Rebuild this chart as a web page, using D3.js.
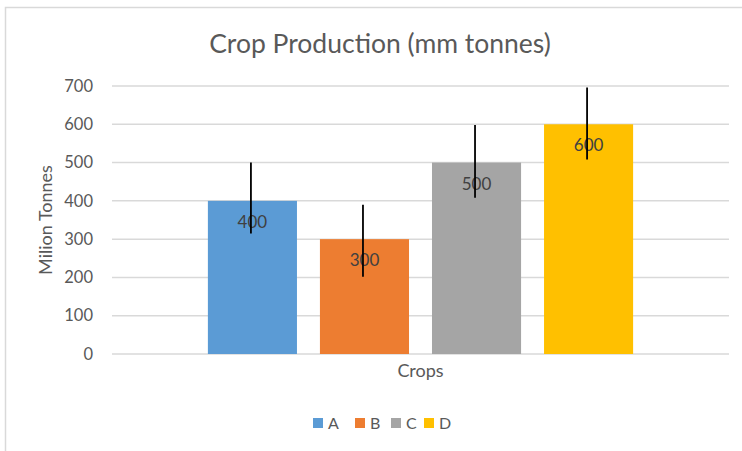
<!DOCTYPE html>
<html>
<head>
<meta charset="utf-8">
<script src="https://cdn.jsdelivr.net/npm/d3@7"></script>
<style>
  body { margin: 0; background: #fff; }
  text { font-family: Lato, "Open Sans", sans-serif; }
</style>
</head>
<body>
<div id="chart"></div>
<script>
const crops = ['A', 'B', 'C', 'D']
const production = [400, 300, 500, 600]
const errorPlus = [100, 90, 98, 96]
const errorMinus = [85, 98, 92, 92]
const yTicks = [0, 100, 200, 300, 400, 500, 600, 700]
const colors = ['#5b9bd5', '#ed7d31', '#a5a5a5', '#ffc000']

const width = 742
const height = 451
const margin = { top: 86, right: 13, bottom: 97, left: 112 }

const svg = d3.select('#chart')
  .append('svg')
  .attr('width', width)
  .attr('height', height)

// chart frame (cropped on the right and bottom like the original)
svg.append('rect')
  .attr('x', 5.5).attr('y', 7.5)
  .attr('width', 770).attr('height', 470)
  .attr('fill', '#fff')
  .attr('stroke', '#d9d9d9')
  .attr('stroke-width', 1.5)

const y = d3.scaleLinear()
  .domain([0, 700])
  .range([height - margin.bottom, margin.top])

const x0 = d3.scaleBand()
  .domain(['Crops'])
  .range([margin.left, width - margin.right])
  .paddingInner(0.184)
  .paddingOuter(0.184)

const x1 = d3.scaleBand()
  .domain(crops)
  .range([0, x0.bandwidth()])
  .paddingInner(0.205)
  .paddingOuter(0)

// gridlines
svg.append('g')
  .selectAll('line')
  .data(yTicks)
  .enter()
  .append('line')
  .attr('x1', margin.left)
  .attr('x2', width - margin.right)
  .attr('y1', d => y(d))
  .attr('y2', d => y(d))
  .attr('stroke', '#d9d9d9')
  .attr('stroke-width', 1.5)

// y axis labels
const yAxis = d3.axisLeft(y).tickValues(yTicks).tickSize(0).tickPadding(19)
svg.append('g')
  .attr('transform', `translate(${margin.left},0)`)
  .call(yAxis)
  .call(g => g.select('.domain').remove())
  .selectAll('text')
  .attr('font-size', '16.5px')
  .attr('fill', '#595959')
  .style('font-family', 'Lato, "Open Sans", sans-serif')

const group = svg.append('g')
  .attr('transform', `translate(${x0('Crops')},0)`)

const rows = crops.map((c, i) => ({
  crop: c,
  value: production[i],
  plus: errorPlus[i],
  minus: errorMinus[i],
  color: colors[i]
}))

// bars
group.selectAll('rect')
  .data(rows)
  .enter()
  .append('rect')
  .attr('x', d => x1(d.crop))
  .attr('y', d => y(d.value))
  .attr('width', x1.bandwidth())
  .attr('height', d => y(0) - y(d.value))
  .attr('fill', d => d.color)

// value labels
group.selectAll('.value-label')
  .data(rows)
  .enter()
  .append('text')
  .attr('class', 'value-label')
  .attr('x', d => x1(d.crop) + x1.bandwidth() / 2)
  .attr('y', d => y(d.value) + 27)
  .attr('text-anchor', 'middle')
  .attr('font-size', '17px')
  .attr('fill', '#404040')
  .text(d => d.value)

// error bars
group.selectAll('.err')
  .data(rows)
  .enter()
  .append('line')
  .attr('class', 'err')
  .attr('x1', d => x1(d.crop) + x1.bandwidth() / 2 - 1.5)
  .attr('x2', d => x1(d.crop) + x1.bandwidth() / 2 - 1.5)
  .attr('y1', d => y(d.value + d.plus))
  .attr('y2', d => y(d.value - d.minus))
  .attr('stroke', '#000')
  .attr('stroke-width', 1.8)

// title
svg.append('text')
  .attr('x', 380)
  .attr('y', 53)
  .attr('text-anchor', 'middle')
  .attr('font-size', '26.5px')
  .attr('fill', '#595959')
  .text('Crop Production (mm tonnes)')

// axis titles
svg.append('text')
  .attr('x', x0('Crops') + x0.bandwidth() / 2)
  .attr('y', 377)
  .attr('text-anchor', 'middle')
  .attr('font-size', '18px')
  .attr('fill', '#595959')
  .text('Crops')

svg.append('text')
  .attr('transform', `translate(52,${(y(0) + y(700)) / 2}) rotate(-90)`)
  .attr('text-anchor', 'middle')
  .attr('font-size', '18px')
  .attr('fill', '#595959')
  .text('Milion Tonnes')

// legend
const legendX = [313, 355, 391, 424]
const legend = svg.append('g')
  .selectAll('g')
  .data(rows)
  .enter()
  .append('g')
  .attr('transform', (d, i) => `translate(${legendX[i]},418)`)

legend.append('rect')
  .attr('width', 10)
  .attr('height', 10)
  .attr('fill', d => d.color)

legend.append('text')
  .attr('x', 15)
  .attr('y', 10.5)
  .attr('font-size', '16px')
  .attr('fill', '#595959')
  .text(d => d.crop)
</script>
</body>
</html>
